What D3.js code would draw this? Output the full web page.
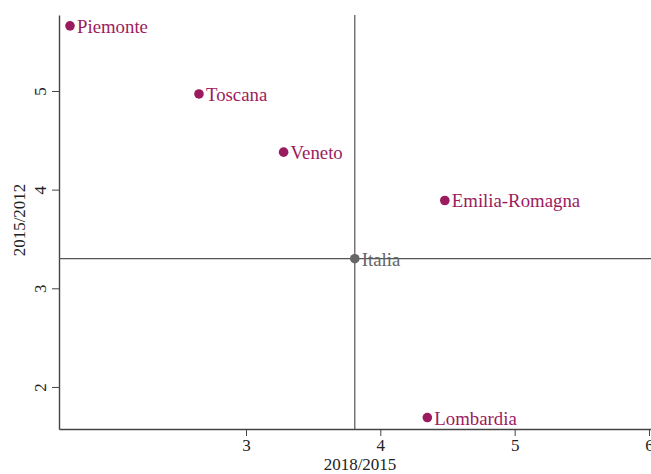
<html>
<head>
  <script src="https://d3js.org/d3.v7.min.js"></script>
  <style>
  body { margin: 0; }
  text { font-family: "Liberation Serif", "DejaVu Serif", serif; }
  </style>
</head>
<body>
  <svg id="scatter" width="651" height="474"></svg>
  <script>

// values
var regions = ["Piemonte", "Toscana", "Veneto", "Emilia-Romagna", "Italia", "Lombardia"];
var growth1815 = [1.69, 2.65, 3.28, 4.48, 3.81, 4.35];
var growth1512 = [5.66, 4.97, 4.38, 3.89, 3.30, 1.69];
var xTicks = [3, 4, 5, 6];
var yTicks = [2, 3, 4, 5];

var svg = d3.select("#scatter"),
  plotLeft = 59, plotTop = 15, plotRight = 651, plotBottom = 429;

var x = d3.scaleLinear().domain([1.608, 6.015]).range([plotLeft, plotRight]);
var y = d3.scaleLinear().domain([1.574, 5.77]).range([plotBottom, plotTop]);

var purple = "#9b1b5e", grey = "#666";

// x axis
var xAxis = svg.append("g")
  .attr("transform", "translate(0," + plotBottom + ")")
  .call(d3.axisBottom(x).tickValues(xTicks).tickSize(7).tickSizeOuter(0).tickFormat(d3.format("d")));
xAxis.select(".domain").attr("stroke", "#444").attr("stroke-width", 1.4);
xAxis.selectAll(".tick line").attr("stroke", "#444");
xAxis.selectAll(".tick text").attr("font-size", 17).attr("font-family", "Liberation Serif").attr("fill", "#222");

// y axis
var yAxis = svg.append("g")
  .attr("transform", "translate(" + plotLeft + ",0)")
  .call(d3.axisLeft(y).tickValues(yTicks).tickSize(7).tickSizeOuter(0).tickFormat(d3.format("d")));
yAxis.select(".domain").attr("stroke", "#444").attr("stroke-width", 1.4);
yAxis.selectAll(".tick line").attr("stroke", "#444");
yAxis.selectAll(".tick text")
  .attr("font-size", 17).attr("font-family", "Liberation Serif").attr("fill", "#222")
  .attr("x", 0).attr("dy", 0)
  .attr("text-anchor", "middle")
  .attr("transform", "translate(-13,0) rotate(-90)");

// axis titles
svg.append("text")
  .attr("x", 360).attr("y", 470)
  .attr("text-anchor", "middle")
  .attr("font-size", 17).attr("fill", "#222")
  .text("2018/2015");

svg.append("text")
  .attr("transform", "translate(25,220) rotate(-90)")
  .attr("text-anchor", "middle")
  .attr("font-size", 17).attr("fill", "#222")
  .text("2015/2012");

// reference lines through Italia
var it = regions.indexOf("Italia");
svg.append("line")
  .attr("x1", x(growth1815[it])).attr("x2", x(growth1815[it]))
  .attr("y1", plotTop).attr("y2", plotBottom)
  .attr("stroke", "#555").attr("stroke-width", 1.2);
svg.append("line")
  .attr("x1", plotLeft).attr("x2", plotRight)
  .attr("y1", y(growth1512[it])).attr("y2", y(growth1512[it]))
  .attr("stroke", "#555").attr("stroke-width", 1.2);

// points and labels
var pts = svg.append("g").selectAll("g")
  .data(regions)
  .enter().append("g");

pts.append("circle")
  .attr("cx", function(d, i) { return x(growth1815[i]); })
  .attr("cy", function(d, i) { return y(growth1512[i]); })
  .attr("r", 4.8)
  .attr("fill", function(d) { return d == "Italia" ? grey : purple; });

pts.append("text")
  .attr("x", function(d, i) { return x(growth1815[i]) + 7; })
  .attr("y", function(d, i) { return y(growth1512[i]) + 7; })
  .attr("font-size", 18.8)
  .attr("fill", function(d) { return d == "Italia" ? grey : purple; })
  .text(function(d) { return d; });

  </script>
</body>
</html>
